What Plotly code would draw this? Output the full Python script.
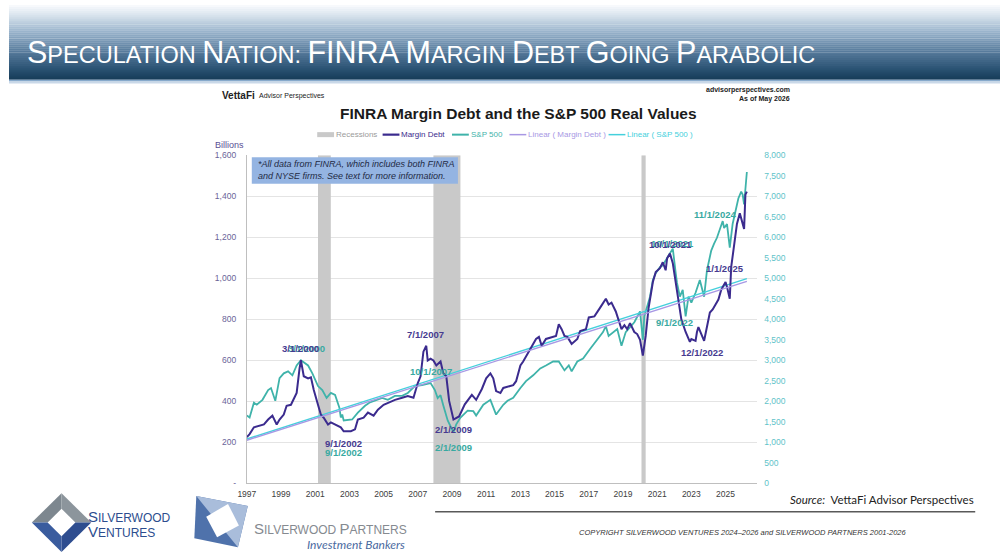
import plotly.graph_objects as go

W, H = 1000, 560

# values
recession_start = ["2001-03-01", "2007-12-01", "2020-02-01"]
recession_end = ["2001-11-30", "2009-06-30", "2020-04-30"]

margin_dates = [
    "1997-01", "1997-03", "1997-06", "1997-10", "1998-01", "1998-04", "1998-07", "1998-10", "1998-12",
    "1999-03", "1999-05", "1999-08", "1999-12", "2000-02", "2000-03", "2000-05", "2000-08", "2000-10",
    "2000-12", "2001-03", "2001-05", "2001-07", "2001-10", "2001-12", "2002-03", "2002-07", "2002-09",
    "2003-02", "2003-05", "2003-07", "2003-11", "2004-02", "2004-06", "2004-09", "2005-01", "2005-04",
    "2005-09", "2006-02", "2006-06", "2006-10", "2007-01", "2007-03", "2007-05", "2007-07", "2007-08",
    "2007-10", "2007-12", "2008-02", "2008-05", "2008-07", "2008-09", "2008-11", "2009-01", "2009-02",
    "2009-06", "2009-10", "2010-03", "2010-06", "2010-10", "2011-01", "2011-04", "2011-06", "2011-08",
    "2011-11", "2012-01", "2012-05", "2012-08", "2012-10", "2013-01", "2013-03", "2013-05", "2013-08",
    "2013-12", "2014-02", "2014-04", "2014-07", "2014-10", "2015-02", "2015-04", "2015-06", "2015-08",
    "2015-10", "2016-01", "2016-03", "2016-05", "2016-07", "2016-11", "2017-01", "2017-05", "2017-09",
    "2018-01", "2018-03", "2018-05", "2018-08", "2018-10", "2018-12", "2019-02", "2019-04", "2019-06",
    "2019-09", "2019-11", "2020-01", "2020-03", "2020-05", "2020-07", "2020-09", "2020-10", "2020-12",
    "2021-03", "2021-05", "2021-07", "2021-08", "2021-10", "2021-12", "2022-02", "2022-04", "2022-06",
    "2022-09", "2022-12", "2023-01", "2023-04", "2023-05", "2023-06", "2023-10", "2023-12", "2024-02",
    "2024-04", "2024-06", "2024-08", "2024-10", "2025-01", "2025-02", "2025-04", "2025-05", "2025-07",
    "2025-09", "2025-11", "2025-12", "2026-02", "2026-03", "2026-04",
]
margin_debt = [
    225, 240, 273, 283, 287, 311, 330, 287, 311,
    335, 378, 383, 441, 560, 600, 522, 512, 517,
    455, 383, 335, 320, 287, 297, 287, 273, 254,
    254, 263, 311, 320, 345, 330, 359, 383, 393,
    407, 417, 426, 417, 489, 522, 642, 671, 599,
    608, 599, 575, 594, 536, 522, 402, 335, 311,
    326, 385, 431, 407, 460, 512, 536, 512, 450,
    441, 465, 474, 479, 498, 575, 594, 618, 656,
    704, 714, 671, 704, 709, 719, 776, 752, 719,
    714, 680, 690, 704, 743, 752, 809, 814, 857,
    900, 872, 881, 838, 790, 752, 771, 752, 781,
    738, 728, 700, 623, 719, 855, 958, 982, 1030,
    1049, 1078, 1039, 1097, 1121, 1073, 977, 881, 800,
    738, 690, 704, 695, 738, 762, 695, 766, 833,
    848, 872, 896, 944, 982, 958, 900, 1054, 1174,
    1265, 1317, 1290, 1241, 1408, 1423,
]

sp_dates = [
    "1997-01", "1997-03", "1997-06", "1997-08", "1997-12", "1998-04", "1998-06", "1998-09", "1998-12",
    "1999-03", "1999-06", "1999-09", "1999-12", "2000-03", "2000-08", "2000-11", "2001-03", "2001-06",
    "2001-09", "2001-12", "2002-03", "2002-06", "2002-07", "2002-08", "2002-09", "2003-03", "2003-07",
    "2003-12", "2004-03", "2004-07", "2004-12", "2005-04", "2005-09", "2006-02", "2006-06", "2006-11",
    "2007-04", "2007-10", "2008-01", "2008-03", "2008-05", "2008-07", "2008-10", "2009-02", "2009-04",
    "2009-07", "2009-12", "2010-04", "2010-06", "2010-11", "2011-04", "2011-08", "2012-01", "2012-04",
    "2012-08", "2013-01", "2013-05", "2013-10", "2014-03", "2014-07", "2014-12", "2015-04", "2015-08",
    "2015-11", "2016-01", "2016-05", "2016-09", "2017-02", "2017-06", "2017-11", "2018-01", "2018-03",
    "2018-09", "2018-12", "2019-03", "2019-06", "2019-09", "2020-01", "2020-03", "2020-04", "2020-06",
    "2020-08", "2020-10", "2020-12", "2021-03", "2021-05", "2021-07", "2021-12", "2022-02", "2022-03",
    "2022-05", "2022-07", "2022-09", "2022-11", "2023-01", "2023-04", "2023-07", "2023-10", "2023-12",
    "2024-03", "2024-05", "2024-07", "2024-11", "2024-12", "2025-02", "2025-04", "2025-06", "2025-08",
    "2025-10", "2025-12", "2026-01", "2026-02", "2026-04",
]
sp500_real = [
    1652, 1605, 1964, 1916, 2036, 2275, 2323, 2012, 2563,
    2682, 2730, 2634, 2874, 3000, 2874, 2682, 2371, 2275,
    2084, 2203, 2155, 1844, 1605, 1676, 1533, 1557, 1724,
    1892, 1964, 2012, 2084, 2036, 2132, 2132, 2203, 2371,
    2395, 2443, 2275, 2080, 2150, 1892, 1533, 1245, 1437,
    1605, 1772, 1760, 1652, 1916, 2036, 1676, 1916, 2012,
    2084, 2323, 2491, 2634, 2802, 2874, 2970, 2970, 2754,
    2874, 2730, 2970, 3042, 3281, 3473, 3688, 3832, 3593,
    3760, 3353, 3688, 3808, 3928, 4191, 3500, 4072, 4311,
    4551, 4958, 5125, 5269, 5317, 5437, 5724, 5125, 4886,
    4551, 4718, 4072, 4551, 4407, 4646, 4958, 4551, 5197,
    5676, 5844, 5988, 6395, 6227, 6323, 5750, 6323, 6634,
    6946, 7113, 7041, 6800, 7592,
]

trend_dates = ["1997-01", "2026-04"]
margin_trend = [210, 985]
sp_trend = [1080, 4990]

year_ticks = list(range(1997, 2027, 2))
left_ticks = list(range(0, 1601, 200))
right_ticks = list(range(0, 8001, 500))

MD = "#3b2b8e"
SP = "#3fb3aa"
MD_T = "#a898e4"
SP_T = "#45d0dc"
REC = "#c9c9c9"
FONT = "Liberation Sans"


def fx(x):
    return x / W


def fy(y):
    return 1 - y / H


fig = go.Figure()

# recession bars
rx, ry = [], []
for s, e in zip(recession_start, recession_end):
    rx += [s, s, e, e, s, None]
    ry += [0, 8000, 8000, 0, 0, None]
fig.add_trace(go.Scatter(x=rx, y=ry, fill="toself", fillcolor=REC, mode="lines",
                         line=dict(width=0), name="Recessions", yaxis="y", hoverinfo="skip"))

fig.add_trace(go.Scatter(x=sp_dates, y=sp500_real, mode="lines", name="S&P 500",
                         line=dict(color=SP, width=1.8), yaxis="y"))
fig.add_trace(go.Scatter(x=trend_dates, y=sp_trend, mode="lines", name="Linear ( S&P 500 )",
                         line=dict(color=SP_T, width=1.4), yaxis="y"))
fig.add_trace(go.Scatter(x=margin_dates, y=margin_debt, mode="lines", name="Margin Debt",
                         line=dict(color=MD, width=2), yaxis="y2"))
fig.add_trace(go.Scatter(x=trend_dates, y=margin_trend, mode="lines", name="Linear ( Margin Debt )",
                         line=dict(color=MD_T, width=1.4), yaxis="y2"))

ydom = [fy(487), fy(153)]
fig.update_layout(
    width=W, height=H, margin=dict(l=0, r=0, t=0, b=0),
    paper_bgcolor="white", plot_bgcolor="white", showlegend=False,
    font=dict(family=FONT, color="#333"),
    xaxis=dict(domain=[fx(240), fx(755)], type="date", range=["1997-01-01", "2026-11-08"],
               tickvals=["%d-01-01" % y for y in year_ticks], ticktext=[str(y) for y in year_ticks],
               showgrid=False, showline=True, linecolor="#bfbfbf", linewidth=1, ticks="",
               tickfont=dict(size=8.5, color="#404040"), anchor="y", ticklabelstandoff=2),
    yaxis=dict(domain=ydom, range=[0, 8000], side="right", tickvals=right_ticks,
               ticktext=["{:,}".format(v) for v in right_ticks], showgrid=False, zeroline=False,
               tickfont=dict(size=8.5, color="#5fc3c9"), ticks="", ticklabelstandoff=6),
    yaxis2=dict(domain=ydom, range=[0, 1600], side="left", overlaying="y", tickvals=left_ticks,
                ticktext=["-"] + ["{:,}".format(v) for v in left_ticks[1:]],
                showgrid=True, gridcolor="#e4e4e4", gridwidth=1, zeroline=False,
                showline=True, linecolor="#bfbfbf", linewidth=1,
                tickfont=dict(size=8.5, color="#6a6498"), ticks="", ticklabelstandoff=8),
)

shapes = []
annos = []

# title bar gradient
stops = [(0.0, (247, 249, 252)), (0.12, (220, 230, 239)), (0.35, (155, 181, 205)),
         (0.6, (92, 127, 160)), (0.85, (46, 86, 119)), (1.0, (24, 62, 90))]


def grad(t):
    for (t0, c0), (t1, c1) in zip(stops, stops[1:]):
        if t <= t1:
            k = (t - t0) / (t1 - t0)
            return "rgb(%d,%d,%d)" % tuple(c0[i] + (c1[i] - c0[i]) * k for i in range(3))
    return "rgb(%d,%d,%d)" % stops[-1][1]


n = 38
for i in range(n):
    y0 = i * 2
    shapes.append(dict(type="rect", xref="paper", yref="paper", x0=0, x1=1,
                       y0=fy(y0 + 2.2), y1=fy(y0), fillcolor=grad(i / (n - 1)), line_width=0, layer="below"))
shapes.append(dict(type="rect", xref="paper", yref="paper", x0=0, x1=1, y0=fy(78), y1=fy(76),
                   fillcolor="#86a9cb", line_width=0, layer="below"))
shapes.append(dict(type="rect", xref="paper", yref="paper", x0=0, x1=1, y0=fy(80), y1=fy(78),
                   fillcolor="#c9d8e8", line_width=0, layer="below"))


def small_caps(text, big, small):
    out = []
    for w in text.split(" "):
        if w.rstrip(":").isupper():
            out.append('<span style="font-size:%spx">%s</span>' % (big, w))
        else:
            out.append('<span style="font-size:%spx">%s</span><span style="font-size:%spx">%s</span>'
                       % (big, w[0], small, w[1:].upper()))
    return " ".join(out)


annos.append(dict(xref="paper", yref="paper", x=fx(16), y=fy(48), xanchor="left", yanchor="middle",
                  text=small_caps("Speculation Nation: FINRA Margin Debt Going Parabolic", 30.5, 23.5),
                  showarrow=False, font=dict(family=FONT, size=23.5, color="white")))

# chart header
annos += [
    dict(x=fx(213), y=fy(92), xanchor="left", text="<b>VettaFi</b>", font=dict(size=10, color="#222")),
    dict(x=fx(250), y=fy(93), xanchor="left", text="Advisor Perspectives", font=dict(size=7, color="#222")),
    dict(x=fx(790), y=fy(87), xanchor="right", text="<b>advisorperspectives.com</b>", font=dict(size=7, color="#222")),
    dict(x=fx(790), y=fy(96), xanchor="right", text="<b>As of May 2026</b>", font=dict(size=7, color="#222")),
    dict(x=fx(514), y=fy(110), xanchor="center", text="<b>FINRA Margin Debt and the S&P 500 Real Values</b>",
         font=dict(size=15.5, color="#1a1a1a")),
    dict(x=fx(206), y=fy(143), xanchor="left", text="Billions", font=dict(size=9, color="#5a4f95")),
]

# legend
legend_items = [
    ("Recessions", 311, REC, 5, "#9a9a9a"),
    ("Margin Debt", 377, MD, 2.2, MD),
    ("S&P 500", 447, SP, 2, SP),
    ("Linear ( Margin Debt )", 505, MD_T, 1.5, MD_T),
    ("Linear ( S&P 500 )", 605, SP_T, 1.5, SP_T),
]
for name, x0, col, lw, tcol in legend_items:
    shapes.append(dict(type="line", xref="paper", yref="paper", x0=fx(x0), x1=fx(x0 + 17),
                       y0=fy(132), y1=fy(132), line=dict(color=col, width=lw)))
    annos.append(dict(x=fx(x0 + 17), y=fy(132), xanchor="left", text=name, font=dict(size=8, color=tcol)))

# note box
shapes.append(dict(type="rect", xref="paper", yref="paper", x0=fx(245), x1=fx(453), y0=fy(182), y1=fy(155),
                   fillcolor="#94b4e2", line_width=0))
annos.append(dict(x=fx(249), y=fy(168.5), xanchor="left", align="left",
                  text="<i>*All data from FINRA, which includes both FINRA<br>and NYSE firms. See text for more information.</i>",
                  font=dict(size=9, color="#1f2a44")))

# footer
annos += [
    dict(x=fx(786), y=fy(503), xanchor="left", text="<i>Source:</i>  VettaFi Advisor Perspectives",
         font=dict(family="Lato", size=11.5, color="#222")),
    dict(x=fx(740), y=fy(537), xanchor="center",
         text="<i>COPYRIGHT SILVERWOOD VENTURES 2024–2026 and SILVERWOOD PARTNERS 2001-2026</i>",
         font=dict(size=7.5, color="#333")),
    dict(x=fx(78), y=fy(521), xanchor="left", text=small_caps("Silverwood", 15, 12),
         font=dict(size=12, color="#2c4d8e", family=FONT)),
    dict(x=fx(78), y=fy(536), xanchor="left", text=small_caps("Ventures", 15, 12),
         font=dict(size=12, color="#2c4d8e", family=FONT)),
    dict(x=fx(245), y=fy(533), xanchor="left", text=small_caps("Silverwood Partners", 15, 12),
         font=dict(size=12, color="#858a90", family=FONT)),
    dict(x=fx(402), y=fy(549), xanchor="right", text="<i>Investment Bankers</i>",
         font=dict(size=12, color="#4a6aa0", family="Lato")),
]
shapes.append(dict(type="line", xref="paper", yref="paper", x0=fx(430), x1=fx(975), y0=fy(516), y1=fy(516),
                   line=dict(color="#595959", width=1.5)))


def path(pts):
    return "M " + " L ".join("%.4f,%.4f" % (fx(a), fy(b)) for a, b in pts) + " Z"


# Silverwood Ventures mark
cx, cy, R, r = 53, 527, 30, 14
L, T, Rt, B = (cx - R, cy), (cx, cy - R), (cx + R, cy), (cx, cy + R)
l, t, rt, b = (cx - r, cy), (cx, cy - r), (cx + r, cy), (cx, cy + r)
for pts, col in [([L, T, t, l], "#7d878f"), ([T, Rt, rt, t], "#8c959c"),
                 ([Rt, B, b, rt], "#2e4d8f"), ([B, L, l, b], "#3a5c9e")]:
    shapes.append(dict(type="path", xref="paper", yref="paper", path=path(pts), fillcolor=col, line_width=0))

# Silverwood Partners mark
shapes.append(dict(type="path", xref="paper", yref="paper",
                   path=path([(189, 500), (241, 510), (231, 552), (187, 543)]), fillcolor="#4f72ab", line_width=0))
shapes.append(dict(type="path", xref="paper", yref="paper",
                   path=path([(189, 500), (241, 510), (231, 552)]), fillcolor="#a9bddb", line_width=0))
shapes.append(dict(type="path", xref="paper", yref="paper",
                   path=path([(199, 521), (221, 508), (232, 530), (210, 542)]), fillcolor="white", line_width=0))

for a in annos:
    a.setdefault("xref", "paper")
    a.setdefault("yref", "paper")
    a.setdefault("showarrow", False)
    a.setdefault("yanchor", "middle")

# data labels anchored on the series points
md_at = dict(zip(margin_dates, margin_debt))
sp_at = dict(zip(sp_dates, sp500_real))
labels = [
    ("3/1/2000", "2000-03", "sp", 6, 12),
    ("3/1/2000", "2000-03", "md", 0, 12),
    ("7/1/2007", "2007-07", "md", -1, 11),
    ("10/1/2007", "2007-10", "sp", 0, 12),
    ("9/1/2002", "2002-09", "md", 0, -12),
    ("9/1/2002", "2002-09", "sp", 0, -32),
    ("2/1/2009", "2009-02", "md", 0, -10),
    ("2/1/2009", "2009-02", "sp", 0, -15),
    ("10/1/2021", "2021-10", "md_sp", 3, 10),
    ("10/1/2021", "2021-10", "md", 1, 9),
    ("9/1/2022", "2022-09", "sp", -11, -6),
    ("12/1/2022", "2022-12", "md", 12, -11),
    ("11/1/2024", "2024-11", "sp", -8, 7),
    ("1/1/2025", "2025-01", "md", -1, 13),
]
for text, d, s, xs, ys in labels:
    on_md = s.startswith("md")
    col = "#463a90" if s == "md" else "#38a9a1"
    fig.add_annotation(x=d + "-01", y=md_at[d] if on_md else sp_at[d], xref="x", yref="y2" if on_md else "y",
                       text="<b>%s</b>" % text, showarrow=False, xshift=xs, yshift=ys,
                       font=dict(size=9.5, color=col, family=FONT))

for a in annos:
    fig.add_annotation(**a)
fig.update_layout(shapes=shapes)

# the page body has a default 8px margin; drop it so the figure sits at the window's corner
fig.write_html("out.html", config={"displayModeBar": False},
               post_script="document.body.style.margin='0';")
